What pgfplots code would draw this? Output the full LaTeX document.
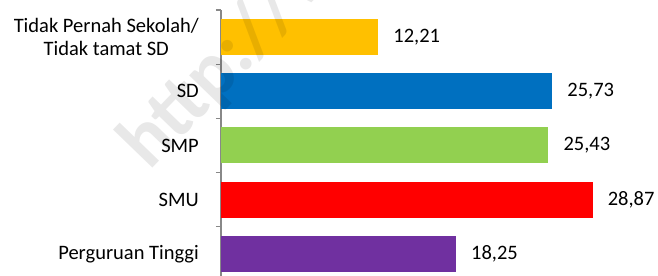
\documentclass[border=0pt]{standalone}
\usepackage{pgfplots}
\pgfplotsset{compat=1.18}
\usepackage{fontspec}
\setmainfont{Carlito}
\definecolor{cYellow}{HTML}{FFC000}
\definecolor{cBlue}{HTML}{0070C0}
\definecolor{cGreen}{HTML}{92D050}
\definecolor{cRed}{HTML}{FF0000}
\definecolor{cPurple}{HTML}{7030A0}
\definecolor{axgray}{HTML}{888888}
\begin{document}
\fontsize{20.5}{24.5}\selectfont
\begin{tikzpicture}
\begin{axis}[name=ax,
  xbar,
  width=437pt, height=266pt, scale only axis,
  xmin=0, xmax=33.95,
  ymin=-0.5, ymax=4.41, y dir=reverse,
  axis x line=none, axis y line*=left,
  y axis line style={draw=axgray, line width=1.2pt},
  ytick={0,1,2,3,4},
  yticklabels={{Tidak Pernah Sekolah/\\Tidak tamat SD},SD,SMP,SMU,Perguruan Tinggi},
  yticklabel style={align=center, inner sep=0pt, xshift=-22pt, text=black, font=\fontsize{20.5}{23}\selectfont},
  major tick length=0pt,
  minor ytick={-0.5,0.5,1.5,2.5,3.5},
  minor tick length=5pt, tick align=outside,
  minor tick style={draw=axgray, line width=1.2pt},
  bar width=0.664, bar shift=0pt,
  nodes near coords,
  nodes near coords style={anchor=west, inner sep=0pt, xshift=15pt, text=black, font=\fontsize{20.5}{23}\selectfont},
  /pgf/number format/.cd, use comma, fixed, fixed zerofill, precision=2, assume math mode=true,
]
\addplot[fill=cYellow, draw=none] coordinates {(12.21,0)};
\addplot[fill=cBlue, draw=none] coordinates {(25.73,1)};
\addplot[fill=cGreen, draw=none] coordinates {(25.43,2)};
\addplot[fill=cRed, draw=none] coordinates {(28.87,3)};
\addplot[fill=cPurple, draw=none] coordinates {(18.25,4)};
\end{axis}
\node[rotate=46, anchor=base west, inner sep=0pt, opacity=0.09, text=black, font=\bfseries\fontsize{78}{78}\selectfont] at ([xshift=-72pt,yshift=-162pt]ax.north west) {http://www};
\pgfresetboundingbox
\path ([xshift=-221pt,yshift=10pt]ax.north west) rectangle (ax.south east);
\end{tikzpicture}
\end{document}
